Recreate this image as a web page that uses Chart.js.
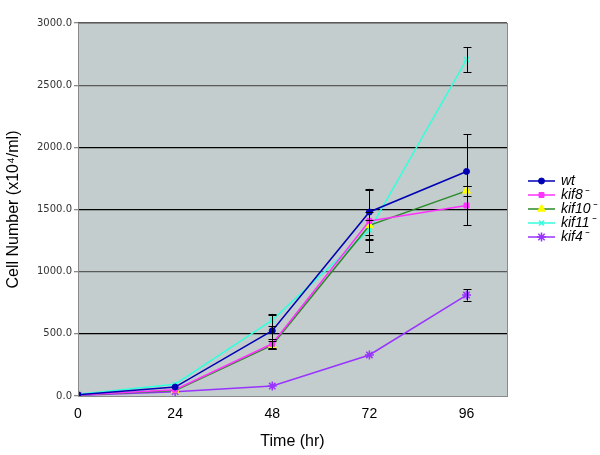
<!DOCTYPE html>
<html lang="en">
<head>
<meta charset="UTF-8">
<title>Cell Number over Time</title>
<script src="https://cdn.jsdelivr.net/npm/chart.js"></script>
<style>
    body { margin: 0; background: #fff; }
    #wrap { width: 600px; height: 455px; position: relative; }
</style>
</head>
<body>
<div id="wrap"><canvas id="cellChart"></canvas></div>
<script>
// time points (hr) and tick labels
const timePoints = [0, 24, 48, 72, 96];
const yTicks = [0, 500, 1000, 1500, 2000, 2500, 3000];

const seriesNames = ['wt', 'kif8\u207B', 'kif10\u207B', 'kif11\u207B', 'kif4\u207B'];

const wtValues    = [10, 72, 525, 1480, 1806];
const kif8Values  = [8, 50, 420, 1408, 1532];
const kif10Values = [8, 45, 410, 1372, 1650];
const kif11Values = [15, 95, 610, 1334, 2706];
const kif4Values  = [5, 35, 80, 330, 812];

// error (+/-) for each series
const wtErr    = [3, 10, 135, 186, 300];
const kif8Err  = [3, 10, 40, 250, 160];
const kif10Err = [3, 8, 35, 110, 40];
const kif11Err = [3, 12, 45, 80, 100];
const kif4Err  = [2, 8, 10, 15, 45];

const lineColors = ['#0000b4', '#ff33ff', '#2a8a2a', '#33ffdd', '#9933ff'];
const markerFill = ['#0000b4', '#ff33ff', '#ffff00', '#33ffdd', '#9933ff'];
const markerStyle = ['circle', 'rect', 'triangle', 'crossRot', 'star'];
const markerSize = [3, 3.5, 4.5, 3.5, 4.5];

const allValues = [wtValues, kif8Values, kif10Values, kif11Values, kif4Values];
const allErrors = [wtErr, kif8Err, kif10Err, kif11Err, kif4Err];

const datasets = seriesNames.map((name, i) => ({
    label: name,
    data: timePoints.map((t, j) => ({ x: t, y: allValues[i][j] })),
    errors: allErrors[i],
    borderColor: lineColors[i],
    backgroundColor: markerFill[i],
    pointBorderColor: markerStyle[i] === 'crossRot' || markerStyle[i] === 'star' ? lineColors[i] : markerFill[i],
    pointBorderWidth: markerStyle[i] === 'crossRot' || markerStyle[i] === 'star' ? 1.5 : 1,
    pointStyle: markerStyle[i],
    pointRadius: markerSize[i],
    borderWidth: 1.5,
    tension: 0
}));

const plotBg = {
    id: 'plotBg',
    beforeDraw(chart) {
        const { ctx, chartArea: a } = chart;
        ctx.save();
        ctx.fillStyle = '#c3cdcd';
        ctx.fillRect(a.left, a.top, a.right - a.left, a.bottom - a.top);
        ctx.restore();
    },
    afterDraw(chart) {
        const { ctx, chartArea: a } = chart;
        ctx.save();
        ctx.strokeStyle = '#8a8a8a';
        ctx.lineWidth = 1;
        ctx.strokeRect(a.left + 0.5, a.top + 0.5, a.right - a.left, a.bottom - a.top);
        ctx.restore();
    }
};

const errorBars = {
    id: 'errorBars',
    afterDatasetsDraw(chart) {
        const { ctx, scales: { x, y } } = chart;
        ctx.save();
        ctx.strokeStyle = '#000';
        ctx.lineWidth = 1;
        chart.data.datasets.forEach(ds => {
            ds.data.forEach((p, j) => {
                const e = ds.errors[j];
                if (e < 20) return;
                const px = Math.round(x.getPixelForValue(p.x)) + 0.5;
                const top = y.getPixelForValue(p.y + e);
                const bot = y.getPixelForValue(p.y - e);
                ctx.beginPath();
                ctx.moveTo(px, top); ctx.lineTo(px, bot);
                ctx.moveTo(px - 4, Math.round(top) + 0.5); ctx.lineTo(px + 4, Math.round(top) + 0.5);
                ctx.moveTo(px - 4, Math.round(bot) + 0.5); ctx.lineTo(px + 4, Math.round(bot) + 0.5);
                ctx.stroke();
            });
        });
        ctx.restore();
    }
};

const sideLegend = {
    id: 'sideLegend',
    afterDraw(chart) {
        const { ctx } = chart;
        ctx.save();
        chart.data.datasets.forEach((ds, i) => {
            const yy = 181 + i * 14;
            ctx.strokeStyle = ds.borderColor;
            ctx.lineWidth = 1.5;
            ctx.beginPath();
            ctx.moveTo(528, yy); ctx.lineTo(555, yy);
            ctx.stroke();
            ctx.fillStyle = ds.backgroundColor;
            ctx.strokeStyle = ds.pointBorderColor;
            ctx.lineWidth = ds.pointBorderWidth;
            Chart.helpers.drawPoint(ctx, {
                pointStyle: ds.pointStyle,
                radius: ds.pointRadius,
                borderWidth: ds.pointBorderWidth
            }, 541.5, yy);
            ctx.fillStyle = '#000';
            ctx.font = 'italic 14px "Liberation Sans", Arial, sans-serif';
            ctx.textBaseline = 'middle';
            ctx.fillText(ds.label, 561, yy);
        });
        ctx.restore();
    }
};

new Chart(document.getElementById('cellChart'), {
    type: 'line',
    data: { datasets },
    options: {
        responsive: true,
        maintainAspectRatio: false,
        animation: false,
        layout: { padding: { top: 23, right: 93, left: 0, bottom: 0 } },
        plugins: {
            legend: { display: false },
            tooltip: { enabled: false }
        },
        scales: {
            x: {
                type: 'linear',
                min: 0,
                max: 106,
                afterBuildTicks: s => { s.ticks = timePoints.map(v => ({ value: v })); },
                afterFit: s => { s.height = 59; },
                grid: { display: false },
                border: { display: false },
                ticks: {
                    color: '#000',
                    font: { family: 'Liberation Sans', size: 14 },
                    padding: 2,
                    maxRotation: 0
                },
                title: {
                    display: true,
                    text: 'Time (hr)',
                    color: '#000',
                    font: { family: 'Liberation Sans', size: 16 },
                    padding: { top: 14 }
                }
            },
            y: {
                min: 0,
                max: 3000,
                afterBuildTicks: s => { s.ticks = yTicks.map(v => ({ value: v })); },
                afterFit: s => { s.width = 78; },
                grid: {
                    color: c => (c.tick && (c.tick.value === 1000 || c.tick.value === 2500 || c.tick.value === 3000)) ? '#5a5a5a' : (c.tick && c.tick.value === 0 ? 'rgba(0,0,0,0)' : '#000'),
                    tickColor: '#8a8a8a',
                    tickLength: 4,
                    lineWidth: 1.3
                },
                border: { display: false },
                ticks: {
                    color: '#333',
                    font: { family: 'DejaVu Sans', size: 10 },
                    padding: 2,
                    callback: v => v.toFixed(1)
                },
                title: {
                    display: true,
                    text: 'Cell Number (x10\u2074/ml)',
                    color: '#000',
                    font: { family: 'Liberation Sans', size: 16 },
                    padding: { bottom: 4 }
                }
            }
        }
    },
    plugins: [plotBg, errorBars, sideLegend]
});
</script>
</body>
</html>
